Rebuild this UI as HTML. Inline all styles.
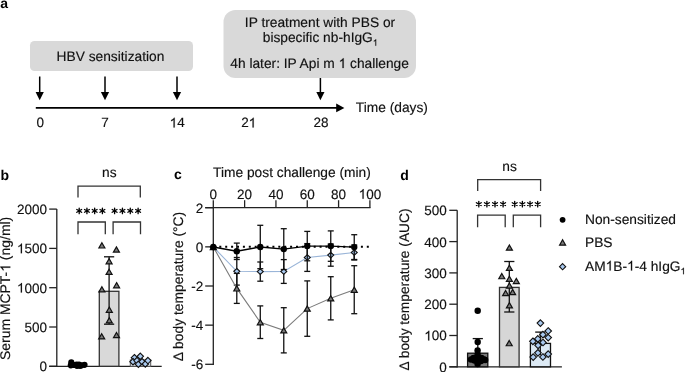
<!DOCTYPE html>
<html><head><meta charset="utf-8"><style>
html,body{margin:0;padding:0;background:#fff;}
svg{display:block;font-family:"Liberation Sans", sans-serif;will-change:transform;text-rendering:geometricPrecision;}
</style></head><body>
<svg width="685" height="372" viewBox="0 0 685 372">
<rect width="685" height="372" fill="#fff"/>
<text id="t1" x="0.3" y="7.6" font-size="14" text-anchor="start" font-weight="bold" fill="#000" stroke="#000" stroke-width="0" >a</text>
<rect x="30" y="41" width="163" height="30" rx="4.5" fill="#d9d9d9"/>
<text id="t2" x="110.5" y="60.6" font-size="13.75" text-anchor="middle" font-weight="normal" fill="#111" stroke="#111" stroke-width="0.15" >HBV sensitization</text>
<rect x="223.5" y="10" width="192.5" height="68" rx="12" fill="#d9d9d9"/>
<text id="t3" x="320" y="26.7" font-size="13.75" text-anchor="middle" font-weight="normal" fill="#111" stroke="#111" stroke-width="0.15" >IP treatment with PBS or</text>
<text id="t4" x="320.3" y="42.1" font-size="13.75" text-anchor="middle" font-weight="normal" fill="#111" stroke="#111" stroke-width="0.15" >bispecific nb-hIgG<tspan font-size="9" dy="3.6"> </tspan></text>
<text id="t5" x="319.6" y="68.1" font-size="13.75" text-anchor="middle" font-weight="normal" fill="#111" stroke="#111" stroke-width="0.15" >4h later: IP Api m   challenge</text>
<line x1="39.7" y1="76.5" x2="39.7" y2="93" stroke="#000" stroke-width="1.5" />
<path d="M35.6,92 L43.800000000000004,92 L39.7,100.2 Z" fill="#000"/>
<line x1="105" y1="76.5" x2="105" y2="93" stroke="#000" stroke-width="1.5" />
<path d="M100.9,92 L109.1,92 L105,100.2 Z" fill="#000"/>
<line x1="177" y1="76.5" x2="177" y2="93" stroke="#000" stroke-width="1.5" />
<path d="M172.9,92 L181.1,92 L177,100.2 Z" fill="#000"/>
<line x1="320.4" y1="78" x2="320.4" y2="93" stroke="#000" stroke-width="1.5" />
<path d="M316.29999999999995,92 L324.5,92 L320.4,100.2 Z" fill="#000"/>
<line x1="35.8" y1="107.9" x2="338" y2="107.9" stroke="#000" stroke-width="1.9" />
<path d="M336.2,103.6 L344.4,107.9 L336.2,112.2 Z" fill="#000"/>
<text id="t6" x="40.2" y="127.4" font-size="13.5" text-anchor="middle" font-weight="normal" fill="#111" stroke="#111" stroke-width="0.15" >0</text>
<text id="t7" x="105" y="127.4" font-size="13.5" text-anchor="middle" font-weight="normal" fill="#111" stroke="#111" stroke-width="0.15" >7</text>
<text id="t8" x="177.2" y="127.4" font-size="13.5" text-anchor="middle" font-weight="normal" fill="#111" stroke="#111" stroke-width="0.15" > 4</text>
<text id="t9" x="248.7" y="127.4" font-size="13.5" text-anchor="middle" font-weight="normal" fill="#111" stroke="#111" stroke-width="0.15" >2 </text>
<text id="t10" x="321" y="127.4" font-size="13.5" text-anchor="middle" font-weight="normal" fill="#111" stroke="#111" stroke-width="0.15" >28</text>
<text id="t11" x="355.8" y="111.8" font-size="13.75" text-anchor="start" font-weight="normal" fill="#111" stroke="#111" stroke-width="0.15" >Time (days)</text>
<text id="t12" x="0.4" y="179.5" font-size="14" text-anchor="start" font-weight="bold" fill="#000" stroke="#000" stroke-width="0" >b</text>
<line x1="56.8" y1="209.1" x2="56.8" y2="366.90000000000003" stroke="#222" stroke-width="1.3" />
<line x1="49.2" y1="366.3" x2="161.7" y2="366.3" stroke="#222" stroke-width="1.3" />
<line x1="49.2" y1="366.3" x2="56.8" y2="366.3" stroke="#222" stroke-width="1.3" />
<text id="t13" x="47.0" y="371.2" font-size="13.5" text-anchor="end" font-weight="normal" fill="#111" stroke="#111" stroke-width="0.15" >0</text>
<line x1="49.2" y1="327.0" x2="56.8" y2="327.0" stroke="#222" stroke-width="1.3" />
<text id="t14" x="47.0" y="331.9" font-size="13.5" text-anchor="end" font-weight="normal" fill="#111" stroke="#111" stroke-width="0.15" >500</text>
<line x1="49.2" y1="287.7" x2="56.8" y2="287.7" stroke="#222" stroke-width="1.3" />
<text id="t15" x="47.0" y="292.59999999999997" font-size="13.5" text-anchor="end" font-weight="normal" fill="#111" stroke="#111" stroke-width="0.15" > 000</text>
<line x1="49.2" y1="248.4" x2="56.8" y2="248.4" stroke="#222" stroke-width="1.3" />
<text id="t16" x="47.0" y="253.3" font-size="13.5" text-anchor="end" font-weight="normal" fill="#111" stroke="#111" stroke-width="0.15" > 500</text>
<line x1="49.2" y1="209.1" x2="56.8" y2="209.1" stroke="#222" stroke-width="1.3" />
<text id="t17" x="47.0" y="214.0" font-size="13.5" text-anchor="end" font-weight="normal" fill="#111" stroke="#111" stroke-width="0.15" >2000</text>
<text id="t18" x="0" y="0" font-size="13.95" text-anchor="middle" font-weight="normal" fill="#111" stroke="#111" stroke-width="0.15" transform="translate(10.3,288.4) rotate(-90)">Serum MCPT-  (ng/ml)</text>
<rect x="130.3" y="360" width="20.4" height="6.3" fill="#dfe6ee" stroke="#555" stroke-width="1"/>
<rect x="99.3" y="291.3" width="19.6" height="75" fill="#d9d9d9" stroke="#333" stroke-width="1.3"/>
<line x1="109.1" y1="256.8" x2="109.1" y2="324.2" stroke="#111" stroke-width="1.3" />
<line x1="104.0" y1="256.8" x2="114.19999999999999" y2="256.8" stroke="#111" stroke-width="1.3" />
<line x1="104.0" y1="324.2" x2="114.19999999999999" y2="324.2" stroke="#111" stroke-width="1.3" />
<path d="M101.90,242.80L104.90,248.00L98.90,248.00Z" fill="#7a7a7a" stroke="#111" stroke-width="1.2" stroke-linejoin="miter"/>
<path d="M116.40,246.90L119.40,252.10L113.40,252.10Z" fill="#7a7a7a" stroke="#111" stroke-width="1.2" stroke-linejoin="miter"/>
<path d="M109.10,258.60L112.10,263.80L106.10,263.80Z" fill="#7a7a7a" stroke="#111" stroke-width="1.2" stroke-linejoin="miter"/>
<path d="M109.10,269.25L112.10,274.45L106.10,274.45Z" fill="#7a7a7a" stroke="#111" stroke-width="1.2" stroke-linejoin="miter"/>
<path d="M116.60,282.60L119.60,287.80L113.60,287.80Z" fill="#7a7a7a" stroke="#111" stroke-width="1.2" stroke-linejoin="miter"/>
<path d="M101.90,286.75L104.90,291.95L98.90,291.95Z" fill="#7a7a7a" stroke="#111" stroke-width="1.2" stroke-linejoin="miter"/>
<path d="M109.30,307.10L112.30,312.30L106.30,312.30Z" fill="#7a7a7a" stroke="#111" stroke-width="1.2" stroke-linejoin="miter"/>
<path d="M109.30,317.70L112.30,322.90L106.30,322.90Z" fill="#7a7a7a" stroke="#111" stroke-width="1.2" stroke-linejoin="miter"/>
<path d="M101.70,333.70L104.70,338.90L98.70,338.90Z" fill="#7a7a7a" stroke="#111" stroke-width="1.2" stroke-linejoin="miter"/>
<path d="M116.50,332.50L119.50,337.70L113.50,337.70Z" fill="#7a7a7a" stroke="#111" stroke-width="1.2" stroke-linejoin="miter"/>
<circle cx="71.30" cy="362.40" r="3.1" fill="#000"/>
<circle cx="70.80" cy="365.30" r="3.1" fill="#000"/>
<circle cx="74.00" cy="365.00" r="3.1" fill="#000"/>
<circle cx="76.50" cy="364.50" r="3.1" fill="#000"/>
<circle cx="79.00" cy="364.60" r="3.1" fill="#000"/>
<circle cx="81.50" cy="365.30" r="3.1" fill="#000"/>
<circle cx="84.50" cy="364.80" r="3.1" fill="#000"/>
<circle cx="77.00" cy="365.80" r="3.1" fill="#000"/>
<circle cx="80.00" cy="365.80" r="3.1" fill="#000"/>
<path d="M134.40,354.50L137.60,357.70L134.40,360.90L131.20,357.70Z" fill="#a9c9ef" stroke="#111" stroke-width="1.1"/>
<path d="M140.30,353.10L143.50,356.30L140.30,359.50L137.10,356.30Z" fill="#a9c9ef" stroke="#111" stroke-width="1.1"/>
<path d="M133.00,358.50L136.20,361.70L133.00,364.90L129.80,361.70Z" fill="#a9c9ef" stroke="#111" stroke-width="1.1"/>
<path d="M137.00,357.40L140.20,360.60L137.00,363.80L133.80,360.60Z" fill="#a9c9ef" stroke="#111" stroke-width="1.1"/>
<path d="M138.40,361.00L141.60,364.20L138.40,367.40L135.20,364.20Z" fill="#a9c9ef" stroke="#111" stroke-width="1.1"/>
<path d="M142.10,358.50L145.30,361.70L142.10,364.90L138.90,361.70Z" fill="#a9c9ef" stroke="#111" stroke-width="1.1"/>
<path d="M145.30,360.80L148.50,364.00L145.30,367.20L142.10,364.00Z" fill="#a9c9ef" stroke="#111" stroke-width="1.1"/>
<path d="M147.90,357.40L151.10,360.60L147.90,363.80L144.70,360.60Z" fill="#a9c9ef" stroke="#111" stroke-width="1.1"/>
<path d="M78,197.6 V186.2 H140.3 V197.6" fill="none" stroke="#333" stroke-width="1.3"/>
<text id="t19" x="109.3" y="177.3" font-size="13.75" text-anchor="middle" font-weight="normal" fill="#111" stroke="#111" stroke-width="0.15" >ns</text>
<path d="M78,234.3 V222 H105.3 V234.3" fill="none" stroke="#333" stroke-width="1.3"/>
<path d="M113.1,234.3 V222 H140.5 V234.3" fill="none" stroke="#333" stroke-width="1.3"/>
<path d="M79.20,208.10L79.20,213.70M76.78,209.50L81.62,212.30M81.62,209.50L76.78,212.30" stroke="#000" stroke-width="1.3" stroke-linecap="round" fill="none"/>
<path d="M86.93,208.10L86.93,213.70M84.51,209.50L89.36,212.30M89.36,209.50L84.51,212.30" stroke="#000" stroke-width="1.3" stroke-linecap="round" fill="none"/>
<path d="M94.67,208.10L94.67,213.70M92.24,209.50L97.09,212.30M97.09,209.50L92.24,212.30" stroke="#000" stroke-width="1.3" stroke-linecap="round" fill="none"/>
<path d="M102.40,208.10L102.40,213.70M99.98,209.50L104.82,212.30M104.82,209.50L99.98,212.30" stroke="#000" stroke-width="1.3" stroke-linecap="round" fill="none"/>
<path d="M114.60,208.10L114.60,213.70M112.18,209.50L117.02,212.30M117.02,209.50L112.18,212.30" stroke="#000" stroke-width="1.3" stroke-linecap="round" fill="none"/>
<path d="M122.43,208.10L122.43,213.70M120.01,209.50L124.86,212.30M124.86,209.50L120.01,212.30" stroke="#000" stroke-width="1.3" stroke-linecap="round" fill="none"/>
<path d="M130.27,208.10L130.27,213.70M127.84,209.50L132.69,212.30M132.69,209.50L127.84,212.30" stroke="#000" stroke-width="1.3" stroke-linecap="round" fill="none"/>
<path d="M138.10,208.10L138.10,213.70M135.68,209.50L140.52,212.30M140.52,209.50L135.68,212.30" stroke="#000" stroke-width="1.3" stroke-linecap="round" fill="none"/>
<text id="t20" x="174.0" y="179.4" font-size="14" text-anchor="start" font-weight="bold" fill="#000" stroke="#000" stroke-width="0" >c</text>
<text id="t21" x="213.1" y="176.5" font-size="13.75" text-anchor="start" font-weight="normal" fill="#111" stroke="#111" stroke-width="0.15" >Time post challenge (min)</text>
<line x1="205.2" y1="207.7" x2="370.5" y2="207.7" stroke="#222" stroke-width="1.3" />
<line x1="213.3" y1="207.0" x2="213.3" y2="364.9" stroke="#222" stroke-width="1.3" />
<line x1="213.3" y1="200.2" x2="213.3" y2="207.7" stroke="#222" stroke-width="1.3" />
<text id="t22" x="213.3" y="198.8" font-size="13.5" text-anchor="middle" font-weight="normal" fill="#111" stroke="#111" stroke-width="0.15" >0</text>
<line x1="244.62" y1="200.2" x2="244.62" y2="207.7" stroke="#222" stroke-width="1.3" />
<text id="t23" x="244.62" y="198.8" font-size="13.5" text-anchor="middle" font-weight="normal" fill="#111" stroke="#111" stroke-width="0.15" >20</text>
<line x1="275.94" y1="200.2" x2="275.94" y2="207.7" stroke="#222" stroke-width="1.3" />
<text id="t24" x="275.94" y="198.8" font-size="13.5" text-anchor="middle" font-weight="normal" fill="#111" stroke="#111" stroke-width="0.15" >40</text>
<line x1="307.26" y1="200.2" x2="307.26" y2="207.7" stroke="#222" stroke-width="1.3" />
<text id="t25" x="307.26" y="198.8" font-size="13.5" text-anchor="middle" font-weight="normal" fill="#111" stroke="#111" stroke-width="0.15" >60</text>
<line x1="338.58" y1="200.2" x2="338.58" y2="207.7" stroke="#222" stroke-width="1.3" />
<text id="t26" x="338.58" y="198.8" font-size="13.5" text-anchor="middle" font-weight="normal" fill="#111" stroke="#111" stroke-width="0.15" >80</text>
<line x1="369.9" y1="200.2" x2="369.9" y2="207.7" stroke="#222" stroke-width="1.3" />
<text id="t27" x="369.9" y="198.8" font-size="13.5" text-anchor="middle" font-weight="normal" fill="#111" stroke="#111" stroke-width="0.15" > 00</text>
<line x1="205.2" y1="207.7" x2="213.3" y2="207.7" stroke="#222" stroke-width="1.3" />
<text id="t28" x="203.2" y="212.6" font-size="13.5" text-anchor="end" font-weight="normal" fill="#111" stroke="#111" stroke-width="0.15" >2</text>
<line x1="205.2" y1="246.85" x2="213.3" y2="246.85" stroke="#222" stroke-width="1.3" />
<text id="t29" x="203.2" y="251.75" font-size="13.5" text-anchor="end" font-weight="normal" fill="#111" stroke="#111" stroke-width="0.15" >0</text>
<line x1="205.2" y1="286.0" x2="213.3" y2="286.0" stroke="#222" stroke-width="1.3" />
<text id="t30" x="203.2" y="290.9" font-size="13.5" text-anchor="end" font-weight="normal" fill="#111" stroke="#111" stroke-width="0.15" >-2</text>
<line x1="205.2" y1="325.15" x2="213.3" y2="325.15" stroke="#222" stroke-width="1.3" />
<text id="t31" x="203.2" y="330.04999999999995" font-size="13.5" text-anchor="end" font-weight="normal" fill="#111" stroke="#111" stroke-width="0.15" >-4</text>
<line x1="205.2" y1="364.29999999999995" x2="213.3" y2="364.29999999999995" stroke="#222" stroke-width="1.3" />
<text id="t32" x="203.2" y="369.19999999999993" font-size="13.5" text-anchor="end" font-weight="normal" fill="#111" stroke="#111" stroke-width="0.15" >-6</text>
<text id="t33" x="0" y="0" font-size="13.85" text-anchor="middle" font-weight="normal" fill="#111" stroke="#111" stroke-width="0.15" transform="translate(183.0,286.5) rotate(-90)">Δ body temperature (°C)</text>
<line x1="219.3" y1="246.85" x2="370" y2="246.85" stroke="#000" stroke-width="2" stroke-dasharray="2 3.9"/>
<line x1="236.79000000000002" y1="257.5" x2="236.79000000000002" y2="285.1" stroke="#111" stroke-width="1.3" />
<line x1="233.79000000000002" y1="257.5" x2="239.79000000000002" y2="257.5" stroke="#111" stroke-width="1.3" />
<line x1="233.79000000000002" y1="285.1" x2="239.79000000000002" y2="285.1" stroke="#111" stroke-width="1.3" />
<line x1="260.28" y1="262.0" x2="260.28" y2="281.20000000000005" stroke="#111" stroke-width="1.3" />
<line x1="257.28" y1="262.0" x2="263.28" y2="262.0" stroke="#111" stroke-width="1.3" />
<line x1="257.28" y1="281.20000000000005" x2="263.28" y2="281.20000000000005" stroke="#111" stroke-width="1.3" />
<line x1="283.77" y1="259.6" x2="283.77" y2="283.4" stroke="#111" stroke-width="1.3" />
<line x1="280.77" y1="259.6" x2="286.77" y2="259.6" stroke="#111" stroke-width="1.3" />
<line x1="280.77" y1="283.4" x2="286.77" y2="283.4" stroke="#111" stroke-width="1.3" />
<line x1="307.26" y1="243.6" x2="307.26" y2="271.4" stroke="#111" stroke-width="1.3" />
<line x1="304.26" y1="243.6" x2="310.26" y2="243.6" stroke="#111" stroke-width="1.3" />
<line x1="304.26" y1="271.4" x2="310.26" y2="271.4" stroke="#111" stroke-width="1.3" />
<line x1="330.75" y1="244.0" x2="330.75" y2="266.2" stroke="#111" stroke-width="1.3" />
<line x1="327.75" y1="244.0" x2="333.75" y2="244.0" stroke="#111" stroke-width="1.3" />
<line x1="327.75" y1="266.2" x2="333.75" y2="266.2" stroke="#111" stroke-width="1.3" />
<line x1="354.24" y1="245.0" x2="354.24" y2="260.0" stroke="#111" stroke-width="1.3" />
<line x1="351.24" y1="245.0" x2="357.24" y2="245.0" stroke="#111" stroke-width="1.3" />
<line x1="351.24" y1="260.0" x2="357.24" y2="260.0" stroke="#111" stroke-width="1.3" />
<polyline points="213.30,247.00 236.79,271.30 260.28,271.60 283.77,271.50 307.26,257.50 330.75,255.10 354.24,252.50" fill="none" stroke="#9ab5d8" stroke-width="1.1"/>
<path d="M213.30,244.20L216.30,247.00L213.30,249.80L210.30,247.00Z" fill="#a9c9ef" stroke="#111" stroke-width="1.1"/>
<path d="M236.79,268.50L239.79,271.30L236.79,274.10L233.79,271.30Z" fill="#a9c9ef" stroke="#111" stroke-width="1.1"/>
<path d="M260.28,268.80L263.28,271.60L260.28,274.40L257.28,271.60Z" fill="#a9c9ef" stroke="#111" stroke-width="1.1"/>
<path d="M283.77,268.70L286.77,271.50L283.77,274.30L280.77,271.50Z" fill="#a9c9ef" stroke="#111" stroke-width="1.1"/>
<path d="M307.26,254.70L310.26,257.50L307.26,260.30L304.26,257.50Z" fill="#a9c9ef" stroke="#111" stroke-width="1.1"/>
<path d="M330.75,252.30L333.75,255.10L330.75,257.90L327.75,255.10Z" fill="#a9c9ef" stroke="#111" stroke-width="1.1"/>
<path d="M354.24,249.70L357.24,252.50L354.24,255.30L351.24,252.50Z" fill="#a9c9ef" stroke="#111" stroke-width="1.1"/>
<line x1="236.79000000000002" y1="273.4" x2="236.79000000000002" y2="303.4" stroke="#111" stroke-width="1.3" />
<line x1="233.79000000000002" y1="273.4" x2="239.79000000000002" y2="273.4" stroke="#111" stroke-width="1.3" />
<line x1="233.79000000000002" y1="303.4" x2="239.79000000000002" y2="303.4" stroke="#111" stroke-width="1.3" />
<line x1="260.28" y1="305.9" x2="260.28" y2="338.5" stroke="#111" stroke-width="1.3" />
<line x1="257.28" y1="305.9" x2="263.28" y2="305.9" stroke="#111" stroke-width="1.3" />
<line x1="257.28" y1="338.5" x2="263.28" y2="338.5" stroke="#111" stroke-width="1.3" />
<line x1="283.77" y1="307.7" x2="283.77" y2="352.90000000000003" stroke="#111" stroke-width="1.3" />
<line x1="280.77" y1="307.7" x2="286.77" y2="307.7" stroke="#111" stroke-width="1.3" />
<line x1="280.77" y1="352.90000000000003" x2="286.77" y2="352.90000000000003" stroke="#111" stroke-width="1.3" />
<line x1="307.26" y1="280.90000000000003" x2="307.26" y2="336.3" stroke="#111" stroke-width="1.3" />
<line x1="304.26" y1="280.90000000000003" x2="310.26" y2="280.90000000000003" stroke="#111" stroke-width="1.3" />
<line x1="304.26" y1="336.3" x2="310.26" y2="336.3" stroke="#111" stroke-width="1.3" />
<line x1="330.75" y1="276.7" x2="330.75" y2="319.90000000000003" stroke="#111" stroke-width="1.3" />
<line x1="327.75" y1="276.7" x2="333.75" y2="276.7" stroke="#111" stroke-width="1.3" />
<line x1="327.75" y1="319.90000000000003" x2="333.75" y2="319.90000000000003" stroke="#111" stroke-width="1.3" />
<line x1="354.24" y1="265.7" x2="354.24" y2="313.7" stroke="#111" stroke-width="1.3" />
<line x1="351.24" y1="265.7" x2="357.24" y2="265.7" stroke="#111" stroke-width="1.3" />
<line x1="351.24" y1="313.7" x2="357.24" y2="313.7" stroke="#111" stroke-width="1.3" />
<polyline points="213.30,247.00 236.79,288.40 260.28,322.20 283.77,330.30 307.26,308.60 330.75,298.30 354.24,289.70" fill="none" stroke="#7c7c7c" stroke-width="1.1"/>
<path d="M213.30,244.40L216.30,249.60L210.30,249.60Z" fill="#7a7a7a" stroke="#111" stroke-width="1.2" stroke-linejoin="miter"/>
<path d="M236.79,285.80L239.79,291.00L233.79,291.00Z" fill="#7a7a7a" stroke="#111" stroke-width="1.2" stroke-linejoin="miter"/>
<path d="M260.28,319.60L263.28,324.80L257.28,324.80Z" fill="#7a7a7a" stroke="#111" stroke-width="1.2" stroke-linejoin="miter"/>
<path d="M283.77,327.70L286.77,332.90L280.77,332.90Z" fill="#7a7a7a" stroke="#111" stroke-width="1.2" stroke-linejoin="miter"/>
<path d="M307.26,306.00L310.26,311.20L304.26,311.20Z" fill="#7a7a7a" stroke="#111" stroke-width="1.2" stroke-linejoin="miter"/>
<path d="M330.75,295.70L333.75,300.90L327.75,300.90Z" fill="#7a7a7a" stroke="#111" stroke-width="1.2" stroke-linejoin="miter"/>
<path d="M354.24,287.10L357.24,292.30L351.24,292.30Z" fill="#7a7a7a" stroke="#111" stroke-width="1.2" stroke-linejoin="miter"/>
<line x1="236.79000000000002" y1="243.10000000000002" x2="236.79000000000002" y2="259.5" stroke="#111" stroke-width="1.3" />
<line x1="233.79000000000002" y1="243.10000000000002" x2="239.79000000000002" y2="243.10000000000002" stroke="#111" stroke-width="1.3" />
<line x1="233.79000000000002" y1="259.5" x2="239.79000000000002" y2="259.5" stroke="#111" stroke-width="1.3" />
<line x1="260.28" y1="225.3" x2="260.28" y2="268.7" stroke="#111" stroke-width="1.3" />
<line x1="257.28" y1="225.3" x2="263.28" y2="225.3" stroke="#111" stroke-width="1.3" />
<line x1="257.28" y1="268.7" x2="263.28" y2="268.7" stroke="#111" stroke-width="1.3" />
<line x1="283.77" y1="228.7" x2="283.77" y2="269.5" stroke="#111" stroke-width="1.3" />
<line x1="280.77" y1="228.7" x2="286.77" y2="228.7" stroke="#111" stroke-width="1.3" />
<line x1="280.77" y1="269.5" x2="286.77" y2="269.5" stroke="#111" stroke-width="1.3" />
<line x1="307.26" y1="231.4" x2="307.26" y2="260.8" stroke="#111" stroke-width="1.3" />
<line x1="304.26" y1="231.4" x2="310.26" y2="231.4" stroke="#111" stroke-width="1.3" />
<line x1="304.26" y1="260.8" x2="310.26" y2="260.8" stroke="#111" stroke-width="1.3" />
<line x1="330.75" y1="230.9" x2="330.75" y2="261.3" stroke="#111" stroke-width="1.3" />
<line x1="327.75" y1="230.9" x2="333.75" y2="230.9" stroke="#111" stroke-width="1.3" />
<line x1="327.75" y1="261.3" x2="333.75" y2="261.3" stroke="#111" stroke-width="1.3" />
<line x1="354.24" y1="234.7" x2="354.24" y2="259.5" stroke="#111" stroke-width="1.3" />
<line x1="351.24" y1="234.7" x2="357.24" y2="234.7" stroke="#111" stroke-width="1.3" />
<line x1="351.24" y1="259.5" x2="357.24" y2="259.5" stroke="#111" stroke-width="1.3" />
<polyline points="213.30,247.00 236.79,251.30 260.28,247.00 283.77,249.10 307.26,246.10 330.75,246.10 354.24,247.10" fill="none" stroke="#000" stroke-width="1.4"/>
<circle cx="213.30" cy="247.00" r="3.2" fill="#000"/>
<circle cx="236.79" cy="251.30" r="3.2" fill="#000"/>
<circle cx="260.28" cy="247.00" r="3.2" fill="#000"/>
<circle cx="283.77" cy="249.10" r="3.2" fill="#000"/>
<circle cx="307.26" cy="246.10" r="3.2" fill="#000"/>
<circle cx="330.75" cy="246.10" r="3.2" fill="#000"/>
<circle cx="354.24" cy="247.10" r="3.2" fill="#000"/>
<text id="t34" x="400.2" y="179.5" font-size="14" text-anchor="start" font-weight="bold" fill="#000" stroke="#000" stroke-width="0" >d</text>
<line x1="457.2" y1="210.3" x2="457.2" y2="367.40000000000003" stroke="#222" stroke-width="1.3" />
<line x1="449.3" y1="366.8" x2="561.9" y2="366.8" stroke="#222" stroke-width="1.3" />
<line x1="449.3" y1="366.8" x2="457.2" y2="366.8" stroke="#222" stroke-width="1.3" />
<text id="t35" x="446.8" y="371.7" font-size="13.5" text-anchor="end" font-weight="normal" fill="#111" stroke="#111" stroke-width="0.15" >0</text>
<line x1="449.3" y1="335.5" x2="457.2" y2="335.5" stroke="#222" stroke-width="1.3" />
<text id="t36" x="446.8" y="340.4" font-size="13.5" text-anchor="end" font-weight="normal" fill="#111" stroke="#111" stroke-width="0.15" > 00</text>
<line x1="449.3" y1="304.2" x2="457.2" y2="304.2" stroke="#222" stroke-width="1.3" />
<text id="t37" x="446.8" y="309.09999999999997" font-size="13.5" text-anchor="end" font-weight="normal" fill="#111" stroke="#111" stroke-width="0.15" >200</text>
<line x1="449.3" y1="272.9" x2="457.2" y2="272.9" stroke="#222" stroke-width="1.3" />
<text id="t38" x="446.8" y="277.79999999999995" font-size="13.5" text-anchor="end" font-weight="normal" fill="#111" stroke="#111" stroke-width="0.15" >300</text>
<line x1="449.3" y1="241.60000000000002" x2="457.2" y2="241.60000000000002" stroke="#222" stroke-width="1.3" />
<text id="t39" x="446.8" y="246.50000000000003" font-size="13.5" text-anchor="end" font-weight="normal" fill="#111" stroke="#111" stroke-width="0.15" >400</text>
<line x1="449.3" y1="210.3" x2="457.2" y2="210.3" stroke="#222" stroke-width="1.3" />
<text id="t40" x="446.8" y="215.20000000000002" font-size="13.5" text-anchor="end" font-weight="normal" fill="#111" stroke="#111" stroke-width="0.15" >500</text>
<text id="t41" x="0" y="0" font-size="13.75" text-anchor="middle" font-weight="normal" fill="#111" stroke="#111" stroke-width="0.15" transform="translate(408.9,289.5) rotate(-90)">Δ body temperature (AUC)</text>
<rect x="467.6" y="353.2" width="20.2" height="13.6" fill="#7a7a7a" stroke="#111" stroke-width="1.3"/>
<rect x="499.5" y="287.4" width="19.6" height="79.4" fill="#d6d6d6" stroke="#333" stroke-width="1.3"/>
<rect x="530.4" y="343.4" width="20.1" height="23.4" fill="#dce9f4" stroke="#111" stroke-width="1.3"/>
<line x1="477.8" y1="338.6" x2="477.8" y2="367" stroke="#111" stroke-width="1.3" />
<line x1="472.7" y1="338.6" x2="482.90000000000003" y2="338.6" stroke="#111" stroke-width="1.3" />
<line x1="509.3" y1="261.5" x2="509.3" y2="312" stroke="#111" stroke-width="1.3" />
<line x1="504.2" y1="261.5" x2="514.4" y2="261.5" stroke="#111" stroke-width="1.3" />
<line x1="504.2" y1="312" x2="514.4" y2="312" stroke="#111" stroke-width="1.3" />
<line x1="540.3" y1="332.1" x2="540.3" y2="355" stroke="#111" stroke-width="1.3" />
<line x1="535.1999999999999" y1="332.1" x2="545.4" y2="332.1" stroke="#111" stroke-width="1.3" />
<circle cx="477.70" cy="310.80" r="3.2" fill="#000"/>
<circle cx="477.70" cy="342.00" r="3.2" fill="#000"/>
<circle cx="477.60" cy="350.40" r="3.2" fill="#000"/>
<circle cx="477.60" cy="354.50" r="3.2" fill="#000"/>
<circle cx="477.60" cy="358.00" r="3.2" fill="#000"/>
<circle cx="477.60" cy="361.50" r="3.2" fill="#000"/>
<circle cx="477.60" cy="364.00" r="3.2" fill="#000"/>
<circle cx="471.00" cy="359.50" r="3.2" fill="#000"/>
<circle cx="473.50" cy="358.00" r="3.2" fill="#000"/>
<circle cx="474.50" cy="360.50" r="3.2" fill="#000"/>
<circle cx="481.50" cy="358.00" r="3.2" fill="#000"/>
<circle cx="484.00" cy="359.50" r="3.2" fill="#000"/>
<circle cx="485.20" cy="360.00" r="3.2" fill="#000"/>
<circle cx="481.00" cy="361.00" r="3.2" fill="#000"/>
<path d="M509.40,245.00L512.40,250.20L506.40,250.20Z" fill="#7a7a7a" stroke="#111" stroke-width="1.2" stroke-linejoin="miter"/>
<path d="M509.40,265.20L512.40,270.40L506.40,270.40Z" fill="#7a7a7a" stroke="#111" stroke-width="1.2" stroke-linejoin="miter"/>
<path d="M501.80,273.55L504.80,278.75L498.80,278.75Z" fill="#7a7a7a" stroke="#111" stroke-width="1.2" stroke-linejoin="miter"/>
<path d="M509.40,276.20L512.40,281.40L506.40,281.40Z" fill="#7a7a7a" stroke="#111" stroke-width="1.2" stroke-linejoin="miter"/>
<path d="M516.30,278.35L519.30,283.55L513.30,283.55Z" fill="#7a7a7a" stroke="#111" stroke-width="1.2" stroke-linejoin="miter"/>
<path d="M509.40,282.95L512.40,288.15L506.40,288.15Z" fill="#7a7a7a" stroke="#111" stroke-width="1.2" stroke-linejoin="miter"/>
<path d="M505.60,290.45L508.60,295.65L502.60,295.65Z" fill="#7a7a7a" stroke="#111" stroke-width="1.2" stroke-linejoin="miter"/>
<path d="M512.60,289.40L515.60,294.60L509.60,294.60Z" fill="#7a7a7a" stroke="#111" stroke-width="1.2" stroke-linejoin="miter"/>
<path d="M509.40,302.65L512.40,307.85L506.40,307.85Z" fill="#7a7a7a" stroke="#111" stroke-width="1.2" stroke-linejoin="miter"/>
<path d="M509.20,340.55L512.20,345.75L506.20,345.75Z" fill="#7a7a7a" stroke="#111" stroke-width="1.2" stroke-linejoin="miter"/>
<path d="M540.40,319.80L543.70,323.10L540.40,326.40L537.10,323.10Z" fill="#a9c9ef" stroke="#111" stroke-width="1.1"/>
<path d="M548.20,327.70L551.50,331.00L548.20,334.30L544.90,331.00Z" fill="#a9c9ef" stroke="#111" stroke-width="1.1"/>
<path d="M542.90,331.40L546.20,334.70L542.90,338.00L539.60,334.70Z" fill="#a9c9ef" stroke="#111" stroke-width="1.1"/>
<path d="M548.20,334.30L551.50,337.60L548.20,340.90L544.90,337.60Z" fill="#a9c9ef" stroke="#111" stroke-width="1.1"/>
<path d="M537.80,335.60L541.10,338.90L537.80,342.20L534.50,338.90Z" fill="#a9c9ef" stroke="#111" stroke-width="1.1"/>
<path d="M532.90,338.00L536.20,341.30L532.90,344.60L529.60,341.30Z" fill="#a9c9ef" stroke="#111" stroke-width="1.1"/>
<path d="M543.00,339.20L546.30,342.50L543.00,345.80L539.70,342.50Z" fill="#a9c9ef" stroke="#111" stroke-width="1.1"/>
<path d="M538.10,342.00L541.40,345.30L538.10,348.60L534.80,345.30Z" fill="#a9c9ef" stroke="#111" stroke-width="1.1"/>
<path d="M537.90,349.50L541.20,352.80L537.90,356.10L534.60,352.80Z" fill="#a9c9ef" stroke="#111" stroke-width="1.1"/>
<path d="M533.20,353.80L536.50,357.10L533.20,360.40L529.90,357.10Z" fill="#a9c9ef" stroke="#111" stroke-width="1.1"/>
<path d="M542.90,353.70L546.20,357.00L542.90,360.30L539.60,357.00Z" fill="#a9c9ef" stroke="#111" stroke-width="1.1"/>
<path d="M548.20,350.80L551.50,354.10L548.20,357.40L544.90,354.10Z" fill="#a9c9ef" stroke="#111" stroke-width="1.1"/>
<path d="M477.7,190.9 V179.6 H540.6 V190.9" fill="none" stroke="#333" stroke-width="1.3"/>
<text id="t42" x="509.6" y="170.8" font-size="13.75" text-anchor="middle" font-weight="normal" fill="#111" stroke="#111" stroke-width="0.15" >ns</text>
<path d="M477.6,227.3 V215.2 H505.2 V227.3" fill="none" stroke="#333" stroke-width="1.3"/>
<path d="M513.3,227.3 V215.2 H540.6 V227.3" fill="none" stroke="#333" stroke-width="1.3"/>
<path d="M478.80,201.30L478.80,206.90M476.38,202.70L481.22,205.50M481.22,202.70L476.38,205.50" stroke="#000" stroke-width="1.3" stroke-linecap="round" fill="none"/>
<path d="M486.90,201.30L486.90,206.90M484.48,202.70L489.32,205.50M489.32,202.70L484.48,205.50" stroke="#000" stroke-width="1.3" stroke-linecap="round" fill="none"/>
<path d="M495.00,201.30L495.00,206.90M492.58,202.70L497.42,205.50M497.42,202.70L492.58,205.50" stroke="#000" stroke-width="1.3" stroke-linecap="round" fill="none"/>
<path d="M503.10,201.30L503.10,206.90M500.68,202.70L505.52,205.50M505.52,202.70L500.68,205.50" stroke="#000" stroke-width="1.3" stroke-linecap="round" fill="none"/>
<path d="M514.70,201.30L514.70,206.90M512.28,202.70L517.12,205.50M517.12,202.70L512.28,205.50" stroke="#000" stroke-width="1.3" stroke-linecap="round" fill="none"/>
<path d="M522.37,201.30L522.37,206.90M519.94,202.70L524.79,205.50M524.79,202.70L519.94,205.50" stroke="#000" stroke-width="1.3" stroke-linecap="round" fill="none"/>
<path d="M530.03,201.30L530.03,206.90M527.61,202.70L532.46,205.50M532.46,202.70L527.61,205.50" stroke="#000" stroke-width="1.3" stroke-linecap="round" fill="none"/>
<path d="M537.70,201.30L537.70,206.90M535.28,202.70L540.12,205.50M540.12,202.70L535.28,205.50" stroke="#000" stroke-width="1.3" stroke-linecap="round" fill="none"/>
<circle cx="562.60" cy="219.80" r="2.9" fill="#000"/>
<text id="t43" x="585.0" y="224.1" font-size="13.75" text-anchor="start" font-weight="normal" fill="#111" stroke="#111" stroke-width="0.15" >Non-sensitized</text>
<path d="M562.60,239.80L565.60,245.20L559.60,245.20Z" fill="#7a7a7a" stroke="#111" stroke-width="1.2" stroke-linejoin="miter"/>
<text id="t44" x="585.0" y="246.8" font-size="13.75" text-anchor="start" font-weight="normal" fill="#111" stroke="#111" stroke-width="0.15" >PBS</text>
<path d="M562.60,263.60L565.70,266.70L562.60,269.80L559.50,266.70Z" fill="#a9c9ef" stroke="#111" stroke-width="1.1"/>
<text id="t45" x="585.0" y="270.6" font-size="13.75" text-anchor="start" font-weight="normal" fill="#111" stroke="#111" stroke-width="0.15" >AM B- -4 hIgG<tspan font-size="9" dy="3.6"> </tspan></text>
<path d="M763 0H583V1147Q518 1085 412.5 1023T223 930V1104Q374 1175 487 1276T647 1472H763V0Z" transform="translate(372.82,45.70) scale(0.00439,-0.00439)" fill="#111" stroke="#111" stroke-width="34.1"/>
<path d="M763 0H583V1147Q518 1085 412.5 1023T223 930V1104Q374 1175 487 1276T647 1472H763V0Z" transform="translate(338.56,68.10) scale(0.00671,-0.00671)" fill="#111" stroke="#111" stroke-width="22.3"/>
<path d="M763 0H583V1147Q518 1085 412.5 1023T223 930V1104Q374 1175 487 1276T647 1472H763V0Z" transform="translate(169.68,127.40) scale(0.00659,-0.00659)" fill="#111" stroke="#111" stroke-width="22.8"/>
<path d="M763 0H583V1147Q518 1085 412.5 1023T223 930V1104Q374 1175 487 1276T647 1472H763V0Z" transform="translate(248.68,127.40) scale(0.00659,-0.00659)" fill="#111" stroke="#111" stroke-width="22.8"/>
<path d="M763 0H583V1147Q518 1085 412.5 1023T223 930V1104Q374 1175 487 1276T647 1472H763V0Z" transform="translate(16.95,292.60) scale(0.00659,-0.00659)" fill="#111" stroke="#111" stroke-width="22.8"/>
<path d="M763 0H583V1147Q518 1085 412.5 1023T223 930V1104Q374 1175 487 1276T647 1472H763V0Z" transform="translate(16.95,253.30) scale(0.00659,-0.00659)" fill="#111" stroke="#111" stroke-width="22.8"/>
<g transform="translate(10.3,288.4) rotate(-90)"><path d="M763 0H583V1147Q518 1085 412.5 1023T223 930V1104Q374 1175 487 1276T647 1472H763V0Z" transform="translate(16.62,0.00) scale(0.00681,-0.00681)" fill="#111" stroke="#111" stroke-width="22.0"/></g>
<path d="M763 0H583V1147Q518 1085 412.5 1023T223 930V1104Q374 1175 487 1276T647 1472H763V0Z" transform="translate(358.63,198.80) scale(0.00659,-0.00659)" fill="#111" stroke="#111" stroke-width="22.8"/>
<path d="M763 0H583V1147Q518 1085 412.5 1023T223 930V1104Q374 1175 487 1276T647 1472H763V0Z" transform="translate(424.27,340.40) scale(0.00659,-0.00659)" fill="#111" stroke="#111" stroke-width="22.8"/>
<path d="M763 0H583V1147Q518 1085 412.5 1023T223 930V1104Q374 1175 487 1276T647 1472H763V0Z" transform="translate(605.62,270.60) scale(0.00671,-0.00671)" fill="#111" stroke="#111" stroke-width="22.3"/><path d="M763 0H583V1147Q518 1085 412.5 1023T223 930V1104Q374 1175 487 1276T647 1472H763V0Z" transform="translate(627.02,270.60) scale(0.00671,-0.00671)" fill="#111" stroke="#111" stroke-width="22.3"/><path d="M763 0H583V1147Q518 1085 412.5 1023T223 930V1104Q374 1175 487 1276T647 1472H763V0Z" transform="translate(680.53,274.20) scale(0.00439,-0.00439)" fill="#111" stroke="#111" stroke-width="34.1"/>
</svg>
</body></html>
